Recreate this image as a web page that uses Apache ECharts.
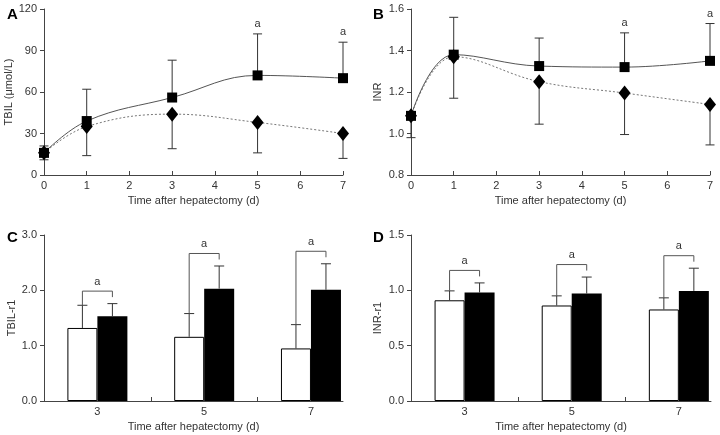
<!DOCTYPE html>
<html><head><meta charset="utf-8">
<script src="https://cdn.jsdelivr.net/npm/echarts@6/dist/echarts.min.js"></script>
<style>html,body{margin:0;padding:0;background:#fff}#c{width:720px;height:435px}</style>
</head><body><div id="c"></div>
<script>
// ---- data ----
const days = [0, 1, 3, 5, 7];
const tbilSq = [16, 39, 56, 72, 70];
const tbilSqErrTop = [21, 62, 83, 102, 96];
const tbilDi = [16, 35, 44, 38, 30];
const tbilDiErrBot = [11, 14, 19, 16, 12];
const tbilSig = [0, 0, 0, 1, 1];
const inrSq = [1.085, 1.38, 1.325, 1.32, 1.35];
const inrSqErrTop = [1.10, 1.56, 1.46, 1.485, 1.53];
const inrDi = [1.085, 1.37, 1.25, 1.195, 1.14];
const inrDiErrBot = [0.98, 1.17, 1.045, 0.995, 0.945];
const inrSig = [0, 0, 0, 1, 1];

const barDays = ['3', '5', '7'];
const tbilR1White = [1.32, 1.16, 0.95];
const tbilR1WhiteErr = [1.73, 1.58, 1.38];
const tbilR1Black = [1.53, 2.03, 2.01];
const tbilR1BlackErr = [1.76, 2.44, 2.48];
const inrR1White = [0.91, 0.863, 0.827];
const inrR1WhiteErr = [0.995, 0.95, 0.932];
const inrR1Black = [0.98, 0.971, 0.995];
const inrR1BlackErr = [1.067, 1.12, 1.2];

const xName = 'Time after hepatectomy (d)';
const FONT = 'Liberation Sans';
const TXT = '#333';
const AX = '#444';

const chart = echarts.init(document.getElementById('c'), null, {renderer: 'canvas'});

function pos(i) { return i * 2 + 1; }

function lineXAxis(gi) {
  return {
    type: 'value', gridIndex: gi, min: 0, max: 7, interval: 1,
    name: xName, nameLocation: 'middle', nameGap: 20,
    nameTextStyle: {fontFamily: FONT, fontSize: 11, color: TXT},
    axisLine: {lineStyle: {color: AX}},
    axisTick: {inside: true, length: 4, lineStyle: {color: AX}},
    axisLabel: {fontFamily: FONT, fontSize: 11, color: TXT, margin: 5},
    splitLine: {show: false}
  };
}
function barXAxis(gi) {
  return {
    type: 'value', gridIndex: gi, min: 0, max: 5.6,
    name: xName, nameLocation: 'middle', nameGap: 20,
    nameTextStyle: {fontFamily: FONT, fontSize: 11, color: TXT},
    axisLine: {lineStyle: {color: AX}},
    axisTick: {inside: true, length: 4, lineStyle: {color: AX}, customValues: [2, 4]},
    axisLabel: {fontFamily: FONT, fontSize: 11, color: TXT, margin: 5,
      customValues: barDays.map((d, i) => pos(i)),
      formatter: v => barDays[(Math.round(v) - 1) / 2]},
    splitLine: {show: false}
  };
}
function yAxis(gi, min, max, interval, dec, name, gap) {
  return {
    type: 'value', gridIndex: gi, min, max, interval,
    name, nameLocation: 'middle', nameGap: gap,
    nameTextStyle: {fontFamily: FONT, fontSize: 11, color: TXT},
    axisLine: {show: true, lineStyle: {color: AX}},
    axisTick: {show: true, length: 4, lineStyle: {color: AX}},
    axisLabel: {fontFamily: FONT, fontSize: 11, color: TXT, margin: 7,
      formatter: v => v.toFixed(dec)},
    splitLine: {show: false}
  };
}

function errSeries(ai, xs, vals, errs, sig) {
  return {
    type: 'custom', xAxisIndex: ai, yAxisIndex: ai, clip: false, z: 1,
    data: xs.map((x, i) => [x, vals[i], errs[i], sig[i]]),
    renderItem: (params, api) => {
      const p = api.coord([api.value(0), api.value(1)]);
      const e = api.coord([api.value(0), api.value(2)]);
      const st = {stroke: '#333', lineWidth: 1};
      const ch = [
        {type: 'line', shape: {x1: p[0], y1: p[1], x2: e[0], y2: e[1]}, style: st},
        {type: 'line', shape: {x1: e[0] - 4.5, y1: e[1], x2: e[0] + 4.5, y2: e[1]}, style: st}
      ];
      if (api.value(3)) {
        ch.push({type: 'text', style: {text: 'a', x: e[0], y: e[1] - 10, align: 'center', verticalAlign: 'middle',
          font: '11px ' + FONT, fill: TXT}});
      }
      return {type: 'group', children: ch};
    }
  };
}

function barAnnot(ai, wv, we, bv, be) {
  return {
    type: 'custom', xAxisIndex: ai, yAxisIndex: ai, clip: false, z: 5,
    data: wv.map((v, i) => [pos(i), wv[i], we[i], bv[i], be[i]]),
    renderItem: (params, api) => {
      const x = api.value(0);
      const w0 = api.coord([x, api.value(1)]);
      const w1 = api.coord([x, api.value(2)]);
      const b0 = api.coord([x, api.value(3)]);
      const b1 = api.coord([x, api.value(4)]);
      const wx = w0[0] - 15, bx = b0[0] + 15;
      const st = {stroke: '#333', lineWidth: 1};
      const st2 = {stroke: '#555', lineWidth: 1};
      const yB = b1[1] - 12.5;
      return {type: 'group', children: [
        {type: 'line', shape: {x1: wx, y1: w0[1], x2: wx, y2: w1[1]}, style: st},
        {type: 'line', shape: {x1: wx - 5, y1: w1[1], x2: wx + 5, y2: w1[1]}, style: st},
        {type: 'line', shape: {x1: bx, y1: b0[1], x2: bx, y2: b1[1]}, style: st},
        {type: 'line', shape: {x1: bx - 5, y1: b1[1], x2: bx + 5, y2: b1[1]}, style: st},
        {type: 'polyline', shape: {points: [[wx, w1[1]], [wx, yB], [bx, yB], [bx, b1[1] - 6.5]]}, style: Object.assign({fill: null}, st2)},
        {type: 'text', style: {text: 'a', x: (wx + bx) / 2, y: yB - 9.5, align: 'center', verticalAlign: 'middle',
          font: '11px ' + FONT, fill: TXT}}
      ]};
    }
  };
}

function lineSeries(ai, vals, isSq) {
  return {
    type: 'line', xAxisIndex: ai, yAxisIndex: ai, z: 3,
    data: days.map((d, i) => [d, vals[i]]),
    smooth: 0.4,
    symbol: isSq ? 'rect' : 'diamond',
    symbolSize: isSq ? 10 : [12, 15],
    itemStyle: {color: '#000'},
    lineStyle: isSq ? {color: '#555', width: 1} : {color: '#777', width: 1, type: [2, 2]},
    emphasis: {disabled: true}
  };
}

function barSeries(ai, vals, white) {
  return {
    type: 'bar', xAxisIndex: ai, yAxisIndex: ai, z: 2,
    data: vals.map((v, i) => [pos(i), v]),
    barWidth: 30, barGap: '0%',
    itemStyle: white ? {color: '#fff', borderColor: '#000', borderWidth: 1} : {color: '#000'},
    emphasis: {disabled: true}
  };
}

const letter = (t, x, y) => ({type: 'text', left: x, top: y,
  style: {text: t, font: 'bold 15px ' + FONT, fill: '#000'}});

chart.setOption({
  animation: false,
  backgroundColor: '#fff',
  grid: [
    {left: 44, top: 9, width: 299, height: 166},
    {left: 411, top: 9, width: 299, height: 166},
    {left: 44, top: 235, width: 299, height: 166},
    {left: 411, top: 235, width: 300, height: 166}
  ],
  xAxis: [lineXAxis(0), lineXAxis(1), barXAxis(2), barXAxis(3)],
  yAxis: [
    yAxis(0, 0, 120, 30, 0, 'TBIL (\u03bcmol/L)', 26),
    yAxis(1, 0.8, 1.6, 0.2, 1, 'INR', 28),
    yAxis(2, 0, 3, 1, 1, 'TBIL-r1', 26),
    yAxis(3, 0, 1.5, 0.5, 1, 'INR-r1', 28)
  ],
  graphic: [letter('A', 7, 7), letter('B', 373, 7), letter('C', 7, 230), letter('D', 373, 230)],
  series: [
    errSeries(0, days, tbilSq, tbilSqErrTop, tbilSig),
    errSeries(0, days, tbilDi, tbilDiErrBot, [0, 0, 0, 0, 0]),
    lineSeries(0, tbilDi, false),
    lineSeries(0, tbilSq, true),
    errSeries(1, days, inrSq, inrSqErrTop, inrSig),
    errSeries(1, days, inrDi, inrDiErrBot, [0, 0, 0, 0, 0]),
    lineSeries(1, inrDi, false),
    lineSeries(1, inrSq, true),
    barSeries(2, tbilR1White, true),
    barSeries(2, tbilR1Black, false),
    barAnnot(2, tbilR1White, tbilR1WhiteErr, tbilR1Black, tbilR1BlackErr),
    barSeries(3, inrR1White, true),
    barSeries(3, inrR1Black, false),
    barAnnot(3, inrR1White, inrR1WhiteErr, inrR1Black, inrR1BlackErr)
  ]
});
</script></body></html>
